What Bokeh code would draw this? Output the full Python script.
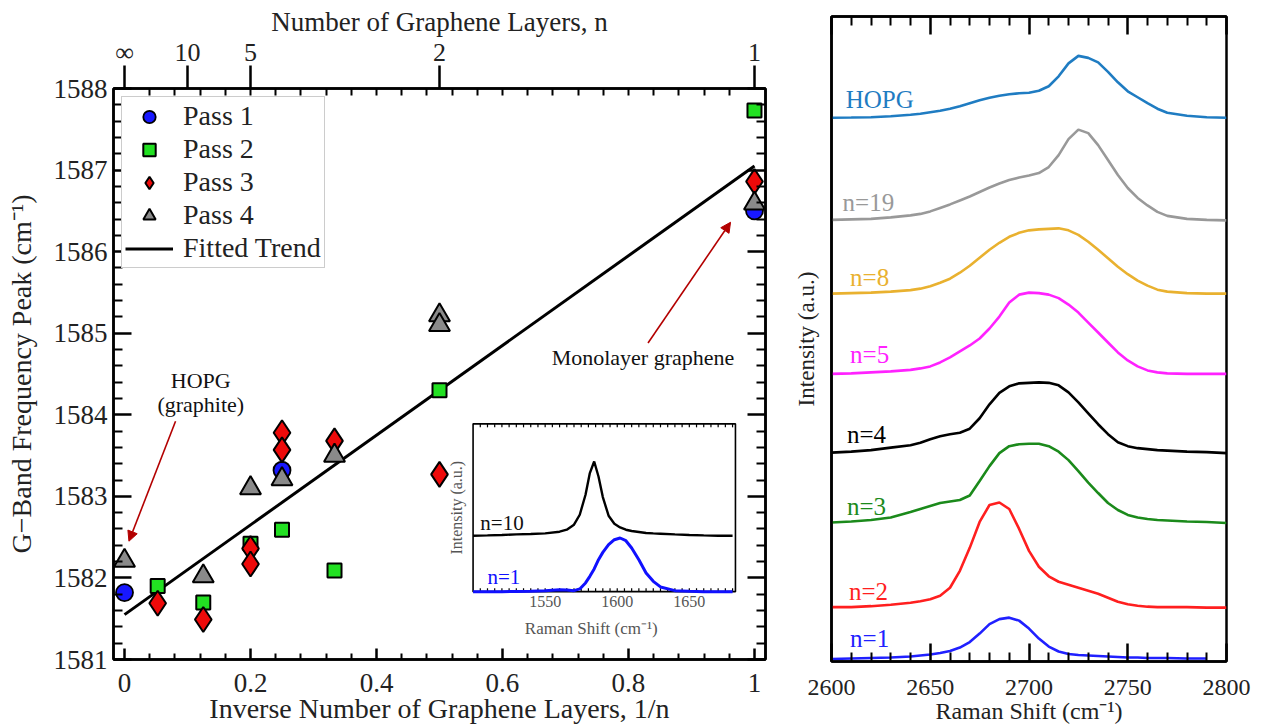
import numpy as np
from bokeh.plotting import figure
from bokeh.models import (Range1d, LinearAxis, FixedTicker, Arrow, NormalHead, Label,
                          ColumnDataSource, Legend, LegendItem)
from bokeh.layouts import row
from bokeh.embed import file_html
from bokeh.resources import INLINE
from bokeh.core.properties import value

FONT = "Liberation Serif"

# ---------------- left panel data (x = 1/n, y = G-band peak, cm^-1) ----------------
pass1_x = [0.0, 1 / 4, 1.0]
pass1_y = [1581.82, 1583.32, 1586.50]
pass2_x = [1 / 19, 1 / 8, 1 / 5, 1 / 4, 1 / 3, 1 / 2, 1.0]
pass2_y = [1581.90, 1581.70, 1582.42, 1582.59, 1582.09, 1584.30, 1587.73]
pass3_x = [1 / 19, 1 / 8, 1 / 5, 1 / 5, 1 / 4, 1 / 4, 1 / 3, 1 / 2, 1.0]
pass3_y = [1581.69, 1581.49, 1582.36, 1582.17, 1583.78, 1583.57, 1583.68, 1583.27, 1586.86]
pass4_x = [0.0, 1 / 8, 1 / 5, 1 / 4, 1 / 3, 1 / 2, 1 / 2, 1.0]
pass4_y = [1582.21, 1582.02, 1583.10, 1583.21, 1583.50, 1585.22, 1585.10, 1586.59]
fit_x = [0.0, 1.0]
fit_y = [1581.55, 1587.05]

bottom_ticks = [0.0, 0.2, 0.4, 0.6, 0.8, 1.0]
bottom_labels = ["0", "0.2", "0.4", "0.6", "0.8", "1"]
top_n_pos = [0.0, 0.1, 0.2, 0.5, 1.0]
top_n_labels = ["\u221e", "10", "5", "2", "1"]
left_ticks = [1581, 1582, 1583, 1584, 1585, 1586, 1587, 1588]

# ---------------- inset data (G band) ----------------
inset_shift = [1500, 1510, 1520, 1530, 1540, 1550, 1560, 1565, 1570, 1574, 1578, 1581, 1584,
               1587, 1590, 1594, 1598, 1602, 1606, 1610, 1615, 1620, 1625, 1630, 1640, 1650,
               1660, 1670, 1680]
inset_n10 = [0.560, 0.563, 0.567, 0.573, 0.577, 0.583, 0.600, 0.620, 0.670, 0.770, 0.970, 1.187,
             1.303, 1.153, 0.947, 0.760, 0.680, 0.643, 0.620, 0.607, 0.597, 0.587, 0.583, 0.580,
             0.573, 0.567, 0.563, 0.560, 0.560]
inset_n1 = [0.000, 0.000, 0.000, 0.002, 0.005, 0.010, 0.020, 0.017, 0.010, 0.027, 0.087, 0.153,
            0.227, 0.320, 0.393, 0.470, 0.520, 0.537, 0.510, 0.437, 0.320, 0.187, 0.103, 0.047,
            0.010, 0.003, 0.000, 0.000, 0.000]

# ---------------- right panel data (2D band, stacked, a.u.) ----------------
raman_shift = [2600, 2610, 2620, 2630, 2640, 2645, 2650, 2655, 2660, 2665, 2670, 2675, 2680,
               2685, 2690, 2695, 2700, 2705, 2710, 2715, 2720, 2725, 2730, 2735, 2740, 2745,
               2750, 2755, 2760, 2765, 2770, 2780, 2790, 2800]
hopg = [54.55, 54.57, 54.60, 54.70, 54.85, 54.95, 55.10, 55.25, 55.45, 55.70, 56.00, 56.30, 56.55,
        56.75, 56.90, 57.00, 57.05, 57.25, 57.70, 58.70, 60.00, 60.75, 60.55, 60.10, 59.15, 58.10,
        57.20, 56.60, 56.00, 55.45, 55.05, 54.75, 54.60, 54.55]
n19 = [44.30, 44.35, 44.40, 44.55, 44.75, 44.90, 45.15, 45.50, 45.85, 46.25, 46.65, 47.10, 47.55,
       47.95, 48.30, 48.55, 48.75, 49.00, 49.60, 50.80, 52.40, 53.35, 53.00, 51.80, 50.30, 48.80,
       47.50, 46.50, 45.75, 45.10, 44.70, 44.40, 44.30, 44.25]
n8 = [36.90, 36.95, 37.00, 37.10, 37.25, 37.40, 37.65, 38.00, 38.40, 39.00, 39.70, 40.50, 41.30,
      42.00, 42.60, 43.00, 43.25, 43.35, 43.40, 43.45, 43.25, 42.80, 42.10, 41.30, 40.45, 39.60,
      38.85, 38.20, 37.70, 37.30, 37.10, 36.95, 36.90, 36.90]
n5 = [28.85, 28.90, 29.00, 29.10, 29.25, 29.40, 29.60, 30.00, 30.50, 31.10, 31.70, 32.40, 33.40,
      34.60, 36.00, 36.80, 37.00, 36.95, 36.80, 36.45, 35.80, 35.00, 34.00, 33.00, 32.00, 31.00,
      30.20, 29.60, 29.20, 29.00, 28.90, 28.85, 28.85, 28.85]
n4 = [20.95, 21.05, 21.20, 21.45, 21.70, 21.95, 22.30, 22.60, 22.80, 22.95, 23.35, 24.40, 25.80,
      26.95, 27.60, 27.90, 27.95, 28.00, 27.95, 27.70, 27.00, 26.00, 24.90, 23.80, 22.80, 22.00,
      21.60, 21.40, 21.30, 21.20, 21.15, 21.05, 21.00, 20.90]
n3 = [13.95, 14.05, 14.20, 14.45, 15.00, 15.30, 15.60, 15.90, 16.05, 16.20, 16.65, 18.10, 19.60,
      20.90, 21.60, 21.80, 21.85, 21.85, 21.60, 21.05, 20.20, 19.10, 17.95, 16.90, 15.90, 15.20,
      14.70, 14.45, 14.30, 14.20, 14.15, 14.05, 14.00, 13.90]
n2 = [5.45, 5.45, 5.55, 5.70, 5.90, 6.05, 6.25, 6.60, 7.40, 9.10, 11.40, 14.00, 15.70,
      15.95, 15.30, 13.30, 11.10, 9.50, 8.55, 8.00, 7.70, 7.40, 7.10, 6.80, 6.40, 6.00,
      5.75, 5.60, 5.50, 5.45, 5.45, 5.45, 5.40, 5.40]
n1 = [0.25, 0.30, 0.35, 0.40, 0.50, 0.60, 0.70, 0.85, 1.05, 1.40, 1.95, 2.80, 3.75,
      4.25, 4.40, 4.10, 3.30, 2.30, 1.50, 1.00, 0.75, 0.65, 0.60, 0.55, 0.50, 0.45,
      0.40, 0.40, 0.35, 0.35, 0.35, 0.30, 0.30, float("nan")]

spectra_names = ["HOPG", "n=19", "n=8", "n=5", "n=4", "n=3", "n=2", "n=1"]
spectra_values = [hopg, n19, n8, n5, n4, n3, n2, n1]
spectra_colors = ["#1f7cc2", "#999999", "#e9b12f", "#ff22ff", "#000000", "#1b8a1b", "#ff1f1f", "#2020ff"]
label_x = [2607.2, 2605.6, 2609.4, 2609.4, 2607.8, 2607.8, 2608.8, 2609.4]
label_y = [56.4, 46.0, 38.5, 30.8, 22.8, 15.5, 7.0, 2.3]

right_ticks = [2600, 2650, 2700, 2750, 2800]


def style_axis(ax, major_in, minor_in, major_out=0, minor_out=0, fs="27px"):
    ax.major_tick_in = major_in
    ax.major_tick_out = major_out
    ax.minor_tick_in = minor_in
    ax.minor_tick_out = minor_out
    ax.major_tick_line_width = 2.5
    ax.minor_tick_line_width = 2
    ax.axis_line_width = 2.5
    ax.major_label_text_font = FONT
    ax.major_label_text_font_size = fs
    ax.major_label_text_color = "#222222"
    ax.axis_label_text_font = FONT
    ax.axis_label_text_font_style = "normal"
    ax.axis_label_text_color = "#222222"
    ax.major_label_standoff = 3


def no_frame_align(fig):
    if "frame_align" in fig.properties():
        fig.frame_align = False


# ================= LEFT FIGURE =================
p = figure(width=790, height=726, x_range=Range1d(-0.0175, 1.0175), y_range=Range1d(1581, 1588),
           output_backend="svg", toolbar_location=None,
           min_border_left=113, min_border_right=25, min_border_top=88, min_border_bottom=66)
no_frame_align(p)
p.grid.visible = False
p.outline_line_color = "black"
p.outline_line_width = 2.5

minor_x = [round(0.04 * k, 2) for k in range(1, 25) if k % 5 != 0]
minor_x_all = [round(0.04 * k, 2) for k in range(1, 25)]
minor_y = [round(1581 + 0.2 * k, 1) for k in range(1, 35) if k % 5 != 0]

bx = p.xaxis[0]
bx.ticker = FixedTicker(ticks=bottom_ticks, minor_ticks=minor_x)
bx.major_label_overrides = dict(zip(bottom_ticks, bottom_labels))
bx.axis_label = "Inverse Number of Graphene Layers, 1/n"
style_axis(bx, 11, 6)
bx.axis_label_text_font_size = "28px"
bx.major_label_standoff = 14
bx.axis_label_standoff = -2

ly = p.yaxis[0]
ly.ticker = FixedTicker(ticks=left_ticks, minor_ticks=minor_y)
ly.axis_label = "G\u2212Band Frequency Peak (cm\u207b\u00b9)"
style_axis(ly, 18, 9)
ly.axis_label_text_font_size = "28px"
ly.major_label_standoff = 6
ly.axis_label_standoff = 14

top = LinearAxis(ticker=FixedTicker(ticks=top_n_pos, minor_ticks=minor_x_all),
                 major_label_overrides=dict(zip(top_n_pos, top_n_labels)),
                 axis_label="Number of Graphene Layers, n")
style_axis(top, 0, 7, major_out=23)
top.major_label_text_font_size = "26px"
top.axis_label_text_font_size = "27px"
top.major_label_standoff = -1
top.axis_label_standoff = -2
p.add_layout(top, "above")

ry = LinearAxis(ticker=FixedTicker(ticks=left_ticks, minor_ticks=minor_y),
                major_label_overrides={t: "" for t in left_ticks})
style_axis(ry, 18, 9, fs="0px")
ry.major_label_standoff = 0
p.add_layout(ry, "right")

# fitted trend and data
r_fit = p.line(fit_x, fit_y, line_color="black", line_width=3)
r1 = p.scatter(pass1_x, pass1_y, marker="circle", size=17, fill_color="#1818ff",
               line_color="black", line_width=1.8)
r2 = p.scatter(pass2_x, pass2_y, marker="square", size=14, fill_color="#22e022",
               line_color="black", line_width=2)
r3 = p.scatter(pass3_x, pass3_y, marker="diamond", size=25, fill_color="#ee0a0a",
               line_color="black", line_width=2)
r4 = p.scatter(pass4_x, pass4_y, marker="triangle", size=21, fill_color="#8a8a8a",
               line_color="black", line_width=2)

# annotations
ARROW_C = "#b30000"
p.add_layout(Arrow(end=NormalHead(size=10, fill_color=ARROW_C, line_color=ARROW_C),
                   x_start=0.081, y_start=1583.92, x_end=0.007, y_end=1582.45,
                   line_color=ARROW_C, line_width=1.6))
p.add_layout(Arrow(end=NormalHead(size=10, fill_color=ARROW_C, line_color=ARROW_C),
                   x_start=0.831, y_start=1584.88, x_end=0.962, y_end=1586.36,
                   line_color=ARROW_C, line_width=1.6))
for txt, xx, yy in [("HOPG", 0.121, 1584.42), ("(graphite)", 0.121, 1584.12),
                    ("Monolayer graphene", 0.823, 1584.70)]:
    p.add_layout(Label(x=xx, y=yy, text=txt, text_align="center", text_baseline="middle",
                       text_font=FONT, text_font_size="22px", text_color="#111111"))

# ---- inset via sub-coordinates ----
ins = p.subplot(x_source=Range1d(1500, 1682), y_source=Range1d(0, 1.68),
                x_target=Range1d(0.5533, 0.9698), y_target=Range1d(1581.832, 1583.889))
ins.quad(left=[1500], right=[1682], bottom=[0], top=[1.68], fill_color="white",
         line_color="black", line_width=1.6)
inset_minor = [float(v) for v in np.arange(1505, 1681, 5)]
ins.segment(x0=inset_minor, y0=[0] * len(inset_minor), x1=inset_minor, y1=[0.035] * len(inset_minor),
            line_color="black", line_width=1.2)
ins.segment(x0=inset_minor, y0=[1.68] * len(inset_minor), x1=inset_minor, y1=[1.645] * len(inset_minor),
            line_color="black", line_width=1.2)
ins.line(inset_shift, inset_n10, line_color="black", line_width=2.4)
ins.line(inset_shift, inset_n1, line_color="#1010ff", line_width=3)
inset_ticks = [1550, 1600, 1650]
ins.text(x=inset_ticks, y=[-0.045] * 3, text=[str(t) for t in inset_ticks], text_align="center",
         text_baseline="top", text_font=value(FONT), text_font_size="16px", text_color="#555555")
ins.text(x=[1582], y=[-0.37], text=["Raman Shift (cm\u207b\u00b9)"], text_align="center",
         text_baseline="middle", text_font=value(FONT), text_font_size="17px", text_color="#555555")
ins.text(x=[1488.5], y=[0.84], text=["Intensity (a.u.)"], angle=np.pi / 2, text_align="center",
         text_baseline="middle", text_font=value(FONT), text_font_size="16px", text_color="#555555")
ins.text(x=[1505, 1510], y=[0.69, 0.15], text=["n=10", "n=1"], text_color=["#111111", "#1010ff"],
         text_align="left", text_baseline="middle", text_font=value(FONT), text_font_size="21px")

# legend
leg = Legend(items=[LegendItem(label="Pass 1", renderers=[r1]),
                    LegendItem(label="Pass 2", renderers=[r2]),
                    LegendItem(label="Pass 3", renderers=[r3]),
                    LegendItem(label="Pass 4", renderers=[r4]),
                    LegendItem(label="Fitted Trend", renderers=[r_fit])],
             location="top_left")
leg.margin = 8
leg.padding = 3
leg.spacing = 1
leg.glyph_width = 48
leg.glyph_height = 31
leg.label_height = 31
leg.label_standoff = 10
leg.label_text_font = FONT
leg.label_text_font_size = "28px"
leg.label_text_color = "#222222"
leg.border_line_color = "#999999"
leg.border_line_width = 1.5
leg.background_fill_alpha = 1.0
p.add_layout(leg)

# ================= RIGHT FIGURE =================
q = figure(width=471, height=726, x_range=Range1d(2600, 2800), y_range=Range1d(0, 64.7),
           output_backend="svg", toolbar_location=None,
           min_border_left=41, min_border_right=35, min_border_top=16, min_border_bottom=63)
no_frame_align(q)
q.grid.visible = False
q.outline_line_color = "black"
q.outline_line_width = 2.5

minor_r = [float(v) for v in range(2610, 2800, 10) if v % 50 != 0]
qx = q.xaxis[0]
qx.ticker = FixedTicker(ticks=right_ticks, minor_ticks=minor_r)
qx.axis_label = "Raman Shift (cm\u207b\u00b9)"
style_axis(qx, 18, 9, fs="24px")
qx.axis_label_text_font_size = "24px"
qx.major_label_standoff = 18
qx.axis_label_standoff = 0

qt = LinearAxis(ticker=FixedTicker(ticks=right_ticks, minor_ticks=minor_r),
                major_label_overrides={t: "" for t in right_ticks})
style_axis(qt, 18, 9, fs="0px")
qt.major_label_standoff = 0
q.add_layout(qt, "above")

qy = q.yaxis[0]
qy.ticker = FixedTicker(ticks=[])
qy.axis_label = "Intensity (a.u.)"
style_axis(qy, 0, 0, fs="0px")
qy.axis_label_text_font_size = "23px"
qy.axis_label_standoff = 13
qy.major_label_standoff = 0

for vals, col in zip(spectra_values, spectra_colors):
    q.line(raman_shift, vals, line_color=col, line_width=2.6)

lab_src = ColumnDataSource(dict(x=label_x, y=label_y, text=spectra_names, color=spectra_colors))
q.text(x="x", y="y", text="text", text_color="color", source=lab_src, text_align="left",
       text_baseline="middle", text_font=value(FONT), text_font_size="25px")

layout = row(p, q)
open("out.html", "w").write(file_html(layout, INLINE))
